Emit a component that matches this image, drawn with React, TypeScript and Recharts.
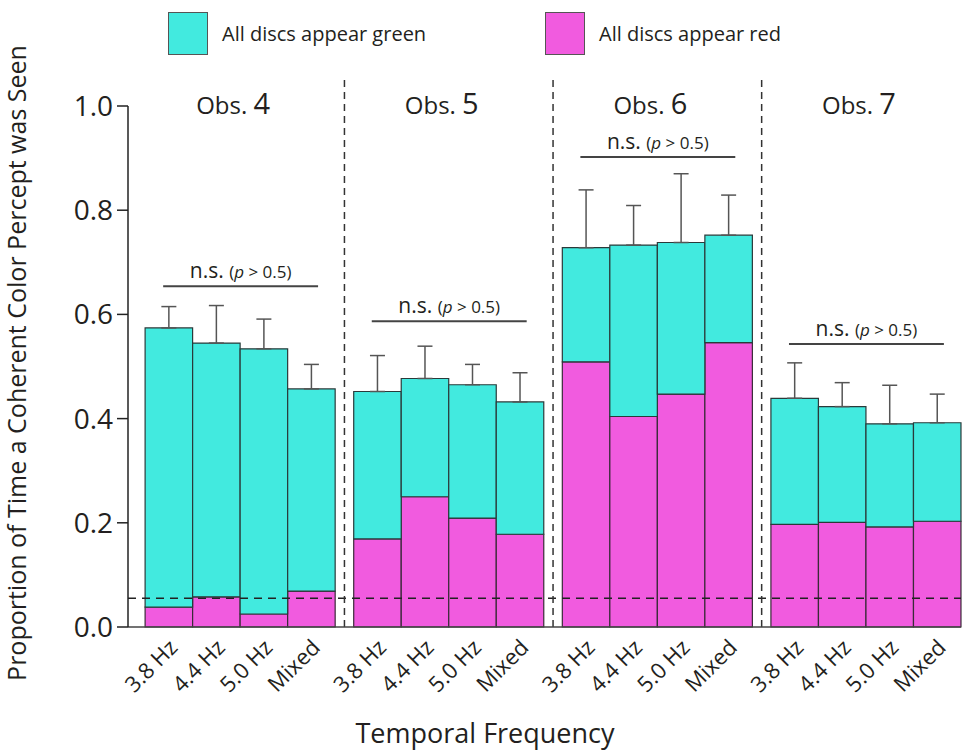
import React from "react";
import {
  ComposedChart,
  Bar,
  XAxis,
  YAxis,
  ErrorBar,
  ReferenceLine,
  ReferenceDot,
  Label,
} from "recharts";

const observers = ["Obs. 4", "Obs. 5", "Obs. 6", "Obs. 7"];
const frequencies = ["3.8 Hz", "4.4 Hz", "5.0 Hz", "Mixed"];

// stacked segment heights, observer by observer, frequency order as above
const redValues = [
  0.038, 0.058, 0.025, 0.069, 0.169, 0.25, 0.209, 0.178, 0.509, 0.404, 0.447,
  0.546, 0.197, 0.201, 0.192, 0.203,
];
const greenValues = [
  0.536, 0.487, 0.509, 0.388, 0.283, 0.227, 0.256, 0.254, 0.219, 0.329, 0.291,
  0.206, 0.242, 0.222, 0.198, 0.189,
];
// upper error (SEM) above the top of each stack
const errorValues = [
  0.041, 0.072, 0.057, 0.047, 0.069, 0.062, 0.039, 0.056, 0.111, 0.076, 0.132,
  0.077, 0.068, 0.046, 0.074, 0.055,
];
const nsLevels = [0.654, 0.587, 0.902, 0.543];
const chanceLevel = 0.055;
const yTicks = [0, 0.2, 0.4, 0.6, 0.8, 1.0];

const GREEN = "#42eadf";
const RED = "#f15bdf";
const INK = "#231f20";
const FONT = "'Open Sans', sans-serif";

const GROUP_GAP = 0.39; // gap between observers, in bar widths
const groupStart = (g: number) => g * (frequencies.length + GROUP_GAP);

const data = redValues.map((red, i) => {
  const g = Math.floor(i / frequencies.length);
  const j = i % frequencies.length;
  return {
    pos: groupStart(g) + j,
    label: frequencies[j],
    red,
    green: greenValues[i],
    err: [0, errorValues[i]],
  };
});

const xDomain = [-0.86, groupStart(observers.length - 1) + frequencies.length - 0.5];

const FreqTick = (props: any) => {
  const { x, y, payload } = props;
  const item = data.find((d) => d.pos === payload.value);
  const ax = x + 10;
  const ay = y + 22;
  return (
    <text
      x={ax}
      y={ay}
      textAnchor="end"
      transform={`rotate(-45, ${ax}, ${ay})`}
      fontSize={22}
      fontFamily={FONT}
      fill={INK}
    >
      {item ? item.label : ""}
    </text>
  );
};

const ObsLabel = (name: string) => (props: any) => {
  const { viewBox } = props;
  const cx = viewBox.x + viewBox.width / 2 - 7;
  const [word, num] = name.split(" ");
  return (
    <text x={cx} y={viewBox.y + 8} textAnchor="middle" fontFamily={FONT} fill={INK}>
      <tspan fontSize={24}>{word} </tspan>
      <tspan fontSize={29}>{num}</tspan>
    </text>
  );
};

const NsLabel = (props: any) => {
  const { viewBox } = props;
  const cx = viewBox.x + viewBox.width / 2;
  return (
    <text x={cx} y={viewBox.y - 8} textAnchor="middle" fontFamily={FONT} fill={INK}>
      <tspan fontSize={21}>n.s. </tspan>
      <tspan fontSize={17}>(</tspan>
      <tspan fontSize={17} fontStyle="italic">p</tspan>
      <tspan fontSize={17}> &gt; 0.5)</tspan>
    </text>
  );
};

const legendItems = [
  { name: "All discs appear green", color: GREEN, left: 168 },
  { name: "All discs appear red", color: RED, left: 545 },
];

export default function App() {
  return (
    <div style={{ position: "absolute", left: 0, top: 0, width: 963, height: 753, background: "#fff" }}>
      {legendItems.map((it) => (
        <div
          key={it.name}
          style={{
            position: "absolute",
            left: it.left,
            top: 12,
            display: "flex",
            alignItems: "center",
            fontFamily: FONT,
            fontSize: 20,
            color: INK,
          }}
        >
          <div
            style={{
              width: 38,
              height: 41,
              background: it.color,
              border: "1.5px solid #555",
              marginRight: 14,
            }}
          />
          {it.name}
        </div>
      ))}
      <ComposedChart
        width={963}
        height={753}
        data={data}
        margin={{ top: 106, right: 2, bottom: 0, left: 0 }}
      >
        <XAxis
          type="number"
          dataKey="pos"
          domain={xDomain}
          ticks={data.map((d) => d.pos)}
          interval={0}
          height={126}
          tickLine={false}
          tickSize={0}
          tickMargin={0}
          axisLine={{ stroke: "#444", strokeWidth: 1.5 }}
          tick={<FreqTick />}
        >
          <Label
            content={() => (
              <text x={485} y={743} textAnchor="middle" fontSize={27} fontFamily={FONT} fill={INK}>
                Temporal Frequency
              </text>
            )}
          />
        </XAxis>
        <YAxis
          type="number"
          domain={[0, 1]}
          ticks={yTicks}
          width={128}
          tickSize={11}
          tickMargin={4}
          tickFormatter={(v: number) => v.toFixed(1)}
          tick={{ fontSize: 28, fill: INK, fontFamily: FONT }}
          axisLine={{ stroke: "#222", strokeWidth: 1.5 }}
          tickLine={{ stroke: "#222", strokeWidth: 1.5 }}
        >
          <Label
            content={() => (
              <text
                transform="translate(26, 363) rotate(-90)"
                textAnchor="middle"
                fontSize={25}
                fontFamily={FONT}
                fill={INK}
              >
                Proportion of Time a Coherent Color Percept was Seen
              </text>
            )}
          />
        </YAxis>

        <Bar
          dataKey="red"
          stackId="a"
          fill={RED}
          stroke="#3a2a38"
          strokeWidth={1.2}
          barSize={47.5}
          isAnimationActive={false}
        />
        <Bar
          dataKey="green"
          stackId="a"
          fill={GREEN}
          stroke="#2a3a3a"
          strokeWidth={1.2}
          barSize={47.5}
          isAnimationActive={false}
        >
          <ErrorBar
            dataKey="err"
            width={7.5}
            stroke="#555"
            strokeWidth={1.5}
            direction="y"
            isAnimationActive={false}
          />
        </Bar>

        <ReferenceLine
          y={chanceLevel}
          stroke="#222"
          strokeWidth={1.5}
          strokeDasharray="8 6"
        />

        {observers.slice(1).map((name, g) => (
          <ReferenceLine
            key={`sep-${name}`}
            segment={[
              { x: groupStart(g + 1) - 0.5 - GROUP_GAP / 2, y: 0 },
              { x: groupStart(g + 1) - 0.5 - GROUP_GAP / 2, y: 1.05 },
            ]}
            ifOverflow="visible"
            stroke="#333"
            strokeWidth={1.5}
            strokeDasharray="7 5"
          />
        ))}

        {nsLevels.map((lvl, g) => (
          <ReferenceLine
            key={`ns-${g}`}
            segment={[
              { x: groupStart(g) - 0.12, y: lvl },
              { x: groupStart(g) + 3.14, y: lvl },
            ]}
            ifOverflow="visible"
            stroke="#444"
            strokeWidth={2}
            label={NsLabel}
          />
        ))}

        {observers.map((name, g) => (
          <ReferenceDot
            key={name}
            x={groupStart(g) + 1.5}
            y={1}
            r={0}
            fill="none"
            stroke="none"
            ifOverflow="visible"
            label={ObsLabel(name)}
          />
        ))}
      </ComposedChart>
    </div>
  );
}
